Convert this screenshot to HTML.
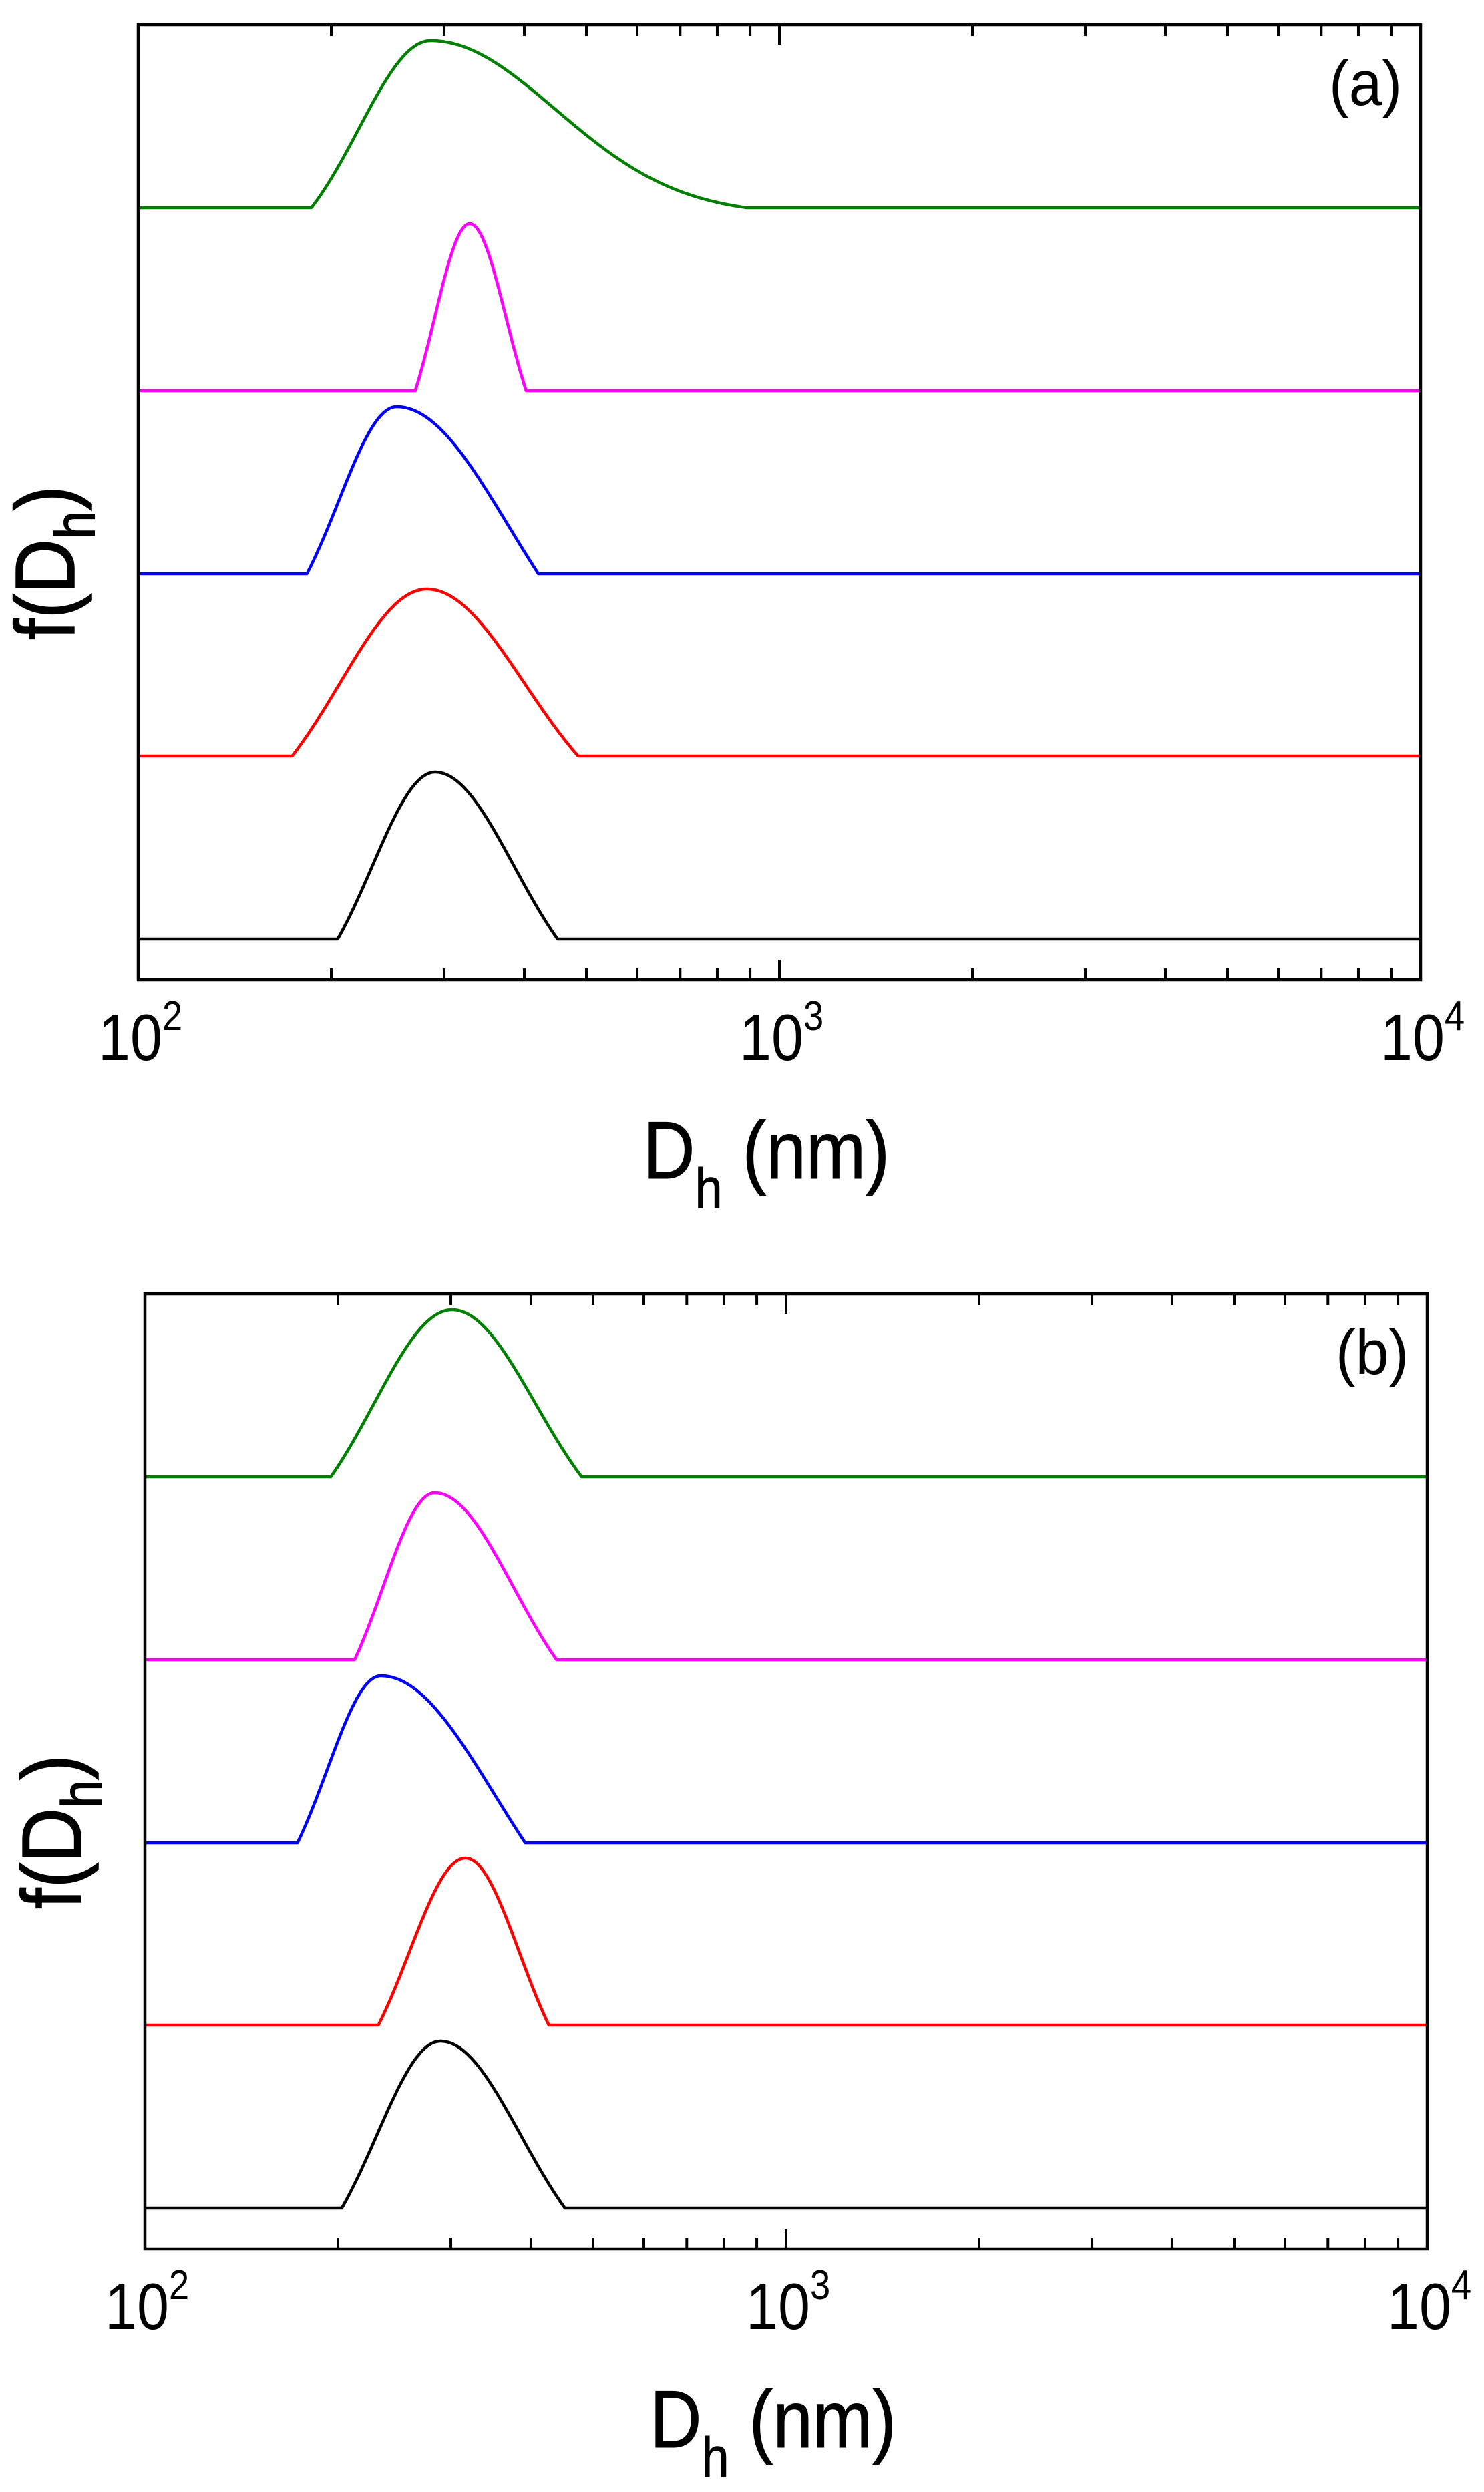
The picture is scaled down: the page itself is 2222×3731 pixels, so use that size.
<!DOCTYPE html>
<html><head><meta charset="utf-8"><style>
html,body{margin:0;padding:0;background:#fff;}
svg{display:block;}
text{font-family:"Liberation Sans",Arial,sans-serif;fill:#000;}
</style></head><body>
<svg id="s" width="2222" height="3731" viewBox="0 0 2222 3731" xmlns="http://www.w3.org/2000/svg">
<rect width="2222" height="3731" fill="#fff"/>
<g id="pa"></g>
<g id="pb"></g>
<!-- Panel a texts -->
<text transform="translate(111,958) rotate(-90) scale(0.9,1)" font-size="126" stroke="#000" stroke-width="1.5">f(D<tspan font-size="84" dy="30">h</tspan><tspan dy="-30">)</tspan></text>
<text transform="translate(963,1764) scale(0.88,1)" font-size="122" stroke="#000" stroke-width="1">D<tspan font-size="84" dy="44">h</tspan><tspan dy="-44"> (nm)</tspan></text>
<text transform="translate(1990,157) scale(0.95,1)" font-size="94">(a)</text>
<!-- Panel b texts -->
<text transform="translate(121,2858) rotate(-90) scale(0.9,1)" font-size="126" stroke="#000" stroke-width="1.5">f(D<tspan font-size="84" dy="30">h</tspan><tspan dy="-30">)</tspan></text>
<text transform="translate(973,3664) scale(0.88,1)" font-size="122" stroke="#000" stroke-width="1">D<tspan font-size="84" dy="44">h</tspan><tspan dy="-44"> (nm)</tspan></text>
<text transform="translate(2000,2057) scale(0.95,1)" font-size="94">(b)</text>
</svg>
<script>
(function(){
var NS="http://www.w3.org/2000/svg";
function el(p,t,a,txt){var e=document.createElementNS(NS,t);for(var k in a)e.setAttribute(k,a[k]);if(txt!==undefined)e.textContent=txt;p.appendChild(e);return e;}
function panel(g,L,T,B,curves){
  var W=960, R=L+2*W;
  function X(u){return L+(u-2)*W;}
  var base=[T+274,T+548,T+822,T+1095,T+1369];
  var H=250;
  curves.forEach(function(c,i){
    var y0=base[i], s=c[0],p=c[1],e=c[2];
    var tL=c[5]||0.3, tR=c[4]||0.3;
    var sL=(p-s)/Math.sqrt(2*Math.log(1/tL)), sR=(e-p)/Math.sqrt(2*Math.log(1/tR));
    var d="M"+L+","+y0+" L"+X(s).toFixed(1)+","+y0;
    for(var k=1;k<=240;k++){
      var u=s+(e-s)*k/240, v;
      if(u<=p){v=(Math.exp(-Math.pow((u-p)/sL,2)/2)-tL)/(1-tL);}
      else{v=(Math.exp(-Math.pow((u-p)/sR,2)/2)-tR)/(1-tR);}
      if(v<0)v=0;
      d+=" L"+X(u).toFixed(1)+","+(y0-H*v).toFixed(1);
    }
    d+=" L"+R+","+y0;
    el(g,"path",{d:d,fill:"none",stroke:c[3],"stroke-width":4.5,"stroke-linejoin":"round"});
  });
  el(g,"rect",{x:L,y:T,width:R-L,height:B-T,fill:"none",stroke:"#000","stroke-width":4.5});
  for(var dec=2;dec<=3;dec++){
    for(var m=1;m<=10;m++){
      var u=dec+Math.log10(m), x=X(u), len=(m==1||m==10)?30:17;
      el(g,"line",{x1:x,y1:B,x2:x,y2:B-len,stroke:"#000","stroke-width":4});
      el(g,"line",{x1:x,y1:T,x2:x,y2:T+len,stroke:"#000","stroke-width":4});
    }
  }
  [2,3,4].forEach(function(d){
    var x=X(d);
    var t=el(g,"text",{transform:"translate("+(x-60)+","+(B+120)+") scale(0.88,1)","font-size":98});
    t.textContent="10";
    el(t,"tspan",{"font-size":62,dy:-45},String(d));
  });
}
panel(document.getElementById("pa"),207,37,1467,[
  [2.27,2.456,2.949,"#008000",0.04,0.25],
  [2.432,2.517,2.605,"#ff00ff"],
  [2.263,2.403,2.624,"#0000ff",0.45],
  [2.24,2.45,2.686,"#ff0000"],
  [2.311,2.463,2.654,"#000000"]
]);
panel(document.getElementById("pb"),217,1937,3367,[
  [2.29,2.479,2.681,"#008000"],
  [2.327,2.452,2.642,"#ff00ff"],
  [2.238,2.368,2.593,"#0000ff",0.45],
  [2.364,2.5,2.63,"#ff0000"],
  [2.307,2.461,2.655,"#000000"]
]);
})();
</script>
</body></html>
